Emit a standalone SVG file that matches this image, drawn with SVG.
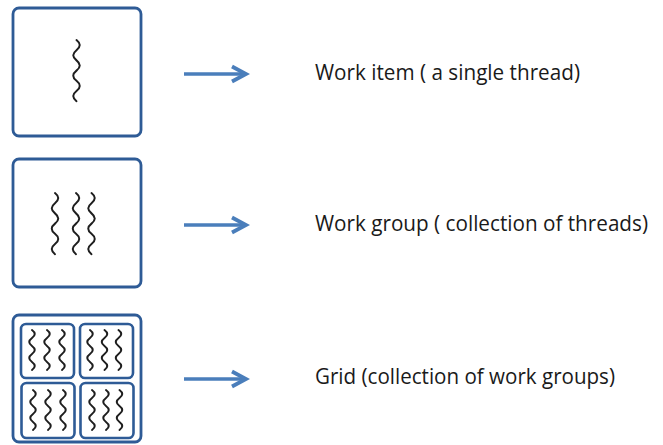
<svg xmlns="http://www.w3.org/2000/svg" width="663" height="445" viewBox="0 0 663 445">
<defs>
<style>
.box{fill:#fff;stroke:#2e5b96;stroke-width:2.8}
.ibox{fill:#fff;stroke:#2e5b96;stroke-width:2.6}
.wave{fill:none;stroke:#1e1e1e;stroke-width:2;stroke-linecap:round}
.arr{fill:none;stroke:#4a7ebb;stroke-width:3.4}
.lbl{font-family:"Open Sans","Liberation Sans",sans-serif;font-size:21px;fill:#1a1a1a}
</style>
<marker id="ah" markerWidth="20" markerHeight="20" viewBox="-16 -10 20 20" refX="0" refY="0" markerUnits="userSpaceOnUse" orient="auto">
<path d="M-14,-7.5 L0,0 L-14,7.5" fill="none" stroke="#4a7ebb" stroke-width="3.8"/>
</marker>
<path id="w1" d="M0,0 q6.5,5.1 0,10.2 t0,10.2 t0,10.2 t0,10.2 t0,10.2 t0,10.2" class="wave"/>
<path id="w2" d="M0,0 q5.5,4 0,8 t0,8 t0,8 t0,8 t0,8" class="wave"/>
</defs>
<rect width="663" height="445" fill="#fff"/>
<g id="work-item">
<rect class="box" x="13" y="8" width="128" height="128" rx="6"/>
<use href="#w1" x="76.5" y="40"/>
</g>
<g id="work-group">
<rect class="box" x="13" y="159" width="128" height="128" rx="6"/>
<use href="#w1" x="55" y="193"/>
<use href="#w1" x="76" y="193"/>
<use href="#w1" x="91.5" y="193"/>
</g>
<g id="grid">
<rect class="box" x="13" y="315" width="128" height="127" rx="6"/>
<rect class="ibox" x="21" y="324" width="53" height="54" rx="5"/>
<rect class="ibox" x="80" y="324" width="53" height="54" rx="5"/>
<rect class="ibox" x="21.5" y="383" width="53" height="55" rx="5"/>
<rect class="ibox" x="80.5" y="383" width="53" height="55" rx="5"/>
<use href="#w2" x="32" y="330"/>
<use href="#w2" x="47" y="330"/>
<use href="#w2" x="62" y="330"/>
<use href="#w2" x="90" y="330"/>
<use href="#w2" x="104.5" y="330"/>
<use href="#w2" x="118.5" y="330"/>
<use href="#w2" x="33" y="390"/>
<use href="#w2" x="48" y="390"/>
<use href="#w2" x="63" y="390"/>
<use href="#w2" x="92" y="390"/>
<use href="#w2" x="106" y="390"/>
<use href="#w2" x="119.5" y="390"/>
</g>
<g id="connectors">
<line class="arr" x1="184" y1="74" x2="246" y2="74" marker-end="url(#ah)"/>
<line class="arr" x1="184" y1="225" x2="246" y2="225" marker-end="url(#ah)"/>
<line class="arr" x1="184" y1="379" x2="246" y2="379" marker-end="url(#ah)"/>
</g>
<g id="labels">
<text class="lbl" x="315" y="80" textLength="265" lengthAdjust="spacingAndGlyphs">Work item ( a single thread)</text>
<text class="lbl" x="315" y="231" textLength="333" lengthAdjust="spacingAndGlyphs">Work group ( collection of threads)</text>
<text class="lbl" x="315" y="384" textLength="300" lengthAdjust="spacingAndGlyphs">Grid (collection of work groups)</text>
</g>
</svg>
